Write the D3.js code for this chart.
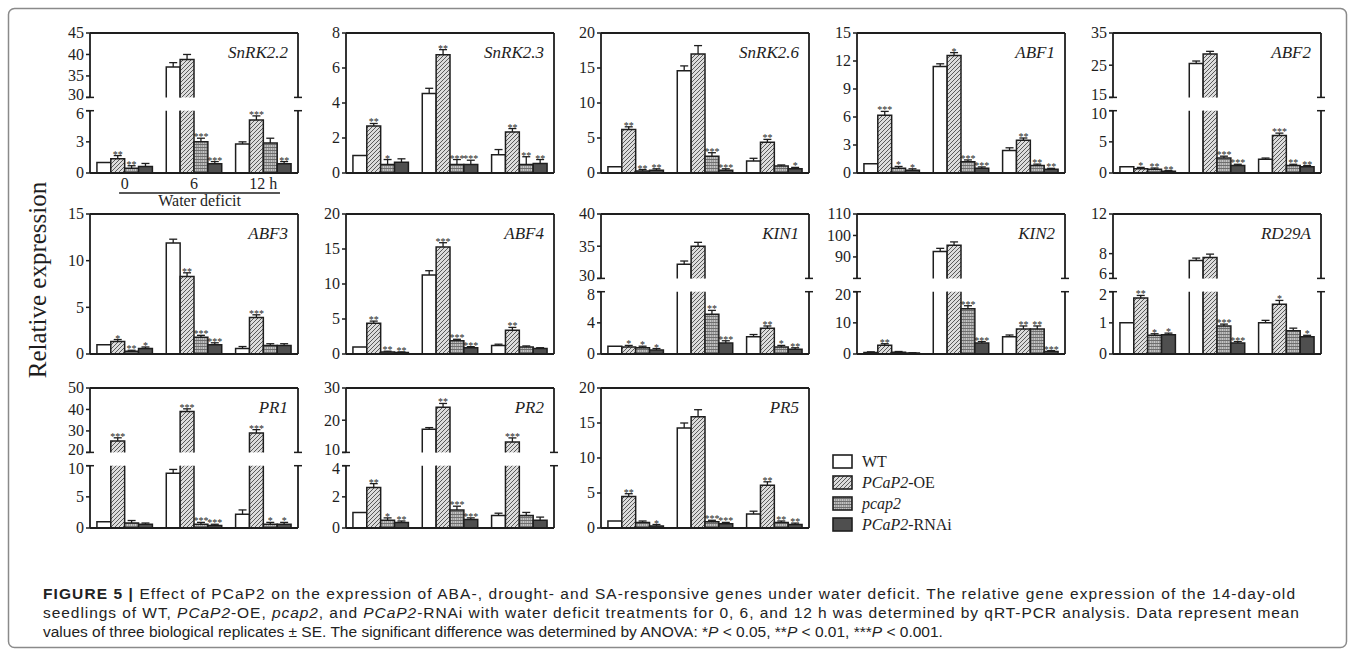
<!DOCTYPE html>
<html>
<head>
<meta charset="utf-8">
<script src="https://cdn.jsdelivr.net/npm/d3@7"></script>
<style>
body { margin: 0; background: #fff; }
svg { display: block; }
</style>
</head>
<body>
<div id="chart"></div>
<script>
const groups = ["0", "6", "12 h"];
const series = ["WT", "PCaP2-OE", "pcap2", "PCaP2-RNAi"];

// values[group][series]
const snrk22Values = [[1.0, 1.38, 0.45, 0.62], [37.1, 38.8, 3.0, 0.9], [2.8, 5.1, 2.9, 0.9]];
const snrk22Errors = [[0, 0.3, 0.25, 0.3], [1.0, 1.2, 0.35, 0.2], [0.2, 0.4, 0.45, 0.2]];
const snrk22Stars = [["", "**", "**", ""], ["", "", "***", "***"], ["", "***", "", "**"]];
const snrk22Domains = [[0, 6], [30, 45]];
const snrk22Ticks = [[0, 3, 6], [30, 35, 40, 45]];

const snrk23Values = [[1.0, 2.68, 0.48, 0.62], [4.55, 6.76, 0.48, 0.48], [1.05, 2.35, 0.48, 0.54]];
const snrk23Errors = [[0, 0.15, 0.29, 0.19], [0.29, 0.29, 0.29, 0.25], [0.29, 0.19, 0.45, 0.23]];
const snrk23Stars = [["", "**", "*", ""], ["", "**", "***", "***"], ["", "**", "**", "**"]];
const snrk23Domains = [[0, 8]];
const snrk23Ticks = [[0, 2, 4, 6, 8]];

const snrk26Values = [[0.9, 6.2, 0.3, 0.4], [14.6, 17.0, 2.4, 0.4], [1.7, 4.4, 1.0, 0.6]];
const snrk26Errors = [[0, 0.4, 0.2, 0.2], [0.7, 1.2, 0.5, 0.2], [0.4, 0.4, 0.15, 0.2]];
const snrk26Stars = [["", "**", "**", "**"], ["", "", "***", "***"], ["", "**", "", "*"]];
const snrk26Domains = [[0, 20]];
const snrk26Ticks = [[0, 5, 10, 15, 20]];

const abf1Values = [[1.0, 6.2, 0.5, 0.3], [11.4, 12.6, 1.2, 0.5], [2.4, 3.5, 0.8, 0.4]];
const abf1Errors = [[0, 0.4, 0.2, 0.15], [0.3, 0.3, 0.2, 0.15], [0.3, 0.25, 0.15, 0.1]];
const abf1Stars = [["", "***", "*", "*"], ["", "*", "***", "***"], ["", "**", "**", "**"]];
const abf1Domains = [[0, 15]];
const abf1Ticks = [[0, 3, 6, 9, 12, 15]];

const abf2Values = [[1.0, 0.7, 0.6, 0.3], [25.5, 28.5, 2.4, 1.2], [2.2, 6.0, 1.2, 1.0]];
const abf2Errors = [[0, 0.2, 0.2, 0.1], [0.8, 0.8, 0.3, 0.2], [0.2, 0.4, 0.2, 0.2]];
const abf2Stars = [["", "*", "**", "**"], ["", "", "***", "***"], ["", "***", "**", "**"]];
const abf2Domains = [[0, 10], [15, 35]];
const abf2Ticks = [[0, 5, 10], [15, 25, 35]];

const abf3Values = [[1.0, 1.35, 0.3, 0.6], [11.9, 8.3, 1.8, 1.0], [0.6, 3.9, 0.9, 0.9]];
const abf3Errors = [[0, 0.2, 0.1, 0.15], [0.4, 0.4, 0.2, 0.2], [0.2, 0.3, 0.2, 0.2]];
const abf3Stars = [["", "*", "**", "*"], ["", "**", "***", "***"], ["", "***", "", ""]];
const abf3Domains = [[0, 15]];
const abf3Ticks = [[0, 5, 10, 15]];

const abf4Values = [[1.0, 4.4, 0.3, 0.2], [11.3, 15.3, 1.9, 0.9], [1.2, 3.4, 1.0, 0.8]];
const abf4Errors = [[0, 0.3, 0.1, 0.1], [0.6, 0.6, 0.2, 0.15], [0.2, 0.4, 0.15, 0.1]];
const abf4Stars = [["", "**", "**", "**"], ["", "***", "***", "***"], ["", "**", "", ""]];
const abf4Domains = [[0, 20]];
const abf4Ticks = [[0, 5, 10, 15, 20]];

const kin1Values = [[1.0, 0.9, 0.8, 0.5], [32.2, 35.0, 5.1, 1.4], [2.2, 3.3, 0.9, 0.6]];
const kin1Errors = [[0, 0.2, 0.2, 0.2], [0.5, 0.6, 0.5, 0.3], [0.3, 0.3, 0.2, 0.2]];
const kin1Stars = [["", "*", "*", "*"], ["", "", "**", "***"], ["", "**", "*", "**"]];
const kin1Domains = [[0, 8], [30, 40]];
const kin1Ticks = [[0, 4, 8], [30, 35, 40]];

const kin2Values = [[0.5, 2.8, 0.6, 0.3], [92.5, 95.5, 14.5, 3.5], [5.5, 8.0, 8.0, 0.8]];
const kin2Errors = [[0.2, 0.5, 0.2, 0.1], [1.5, 1.5, 1.0, 0.5], [0.6, 1.0, 1.0, 0.3]];
const kin2Stars = [["", "**", "", ""], ["", "", "***", "***"], ["", "**", "**", "***"]];
const kin2Domains = [[0, 20], [80, 110]];
const kin2Ticks = [[0, 10, 20], [90, 100, 110]];

const rd29aValues = [[1.0, 1.8, 0.6, 0.62], [7.3, 7.6, 0.9, 0.35], [1.0, 1.6, 0.75, 0.55]];
const rd29aErrors = [[0, 0.08, 0.05, 0.05], [0.25, 0.35, 0.06, 0.05], [0.08, 0.12, 0.08, 0.05]];
const rd29aStars = [["", "**", "*", "*"], ["", "", "***", "***"], ["", "*", "", "*"]];
const rd29aDomains = [[0, 2], [5.5, 12]];
const rd29aTicks = [[0, 1, 2], [6, 8, 12]];

const pr1Values = [[1.0, 25.3, 0.8, 0.6], [8.8, 39.0, 0.6, 0.4], [2.2, 29.0, 0.6, 0.6]];
const pr1Errors = [[0, 1.5, 0.4, 0.2], [0.6, 1.3, 0.3, 0.2], [0.7, 1.6, 0.3, 0.3]];
const pr1Stars = [["", "***", "", ""], ["", "***", "***", "***"], ["", "***", "*", "*"]];
const pr1Domains = [[0, 10], [20, 50]];
const pr1Ticks = [[0, 5, 10], [20, 30, 40, 50]];

const pr2Values = [[1.0, 2.6, 0.5, 0.35], [17.2, 24.0, 1.15, 0.55], [0.8, 13.2, 0.8, 0.5]];
const pr2Errors = [[0, 0.25, 0.15, 0.1], [0.5, 1.2, 0.25, 0.1], [0.15, 1.3, 0.2, 0.2]];
const pr2Stars = [["", "**", "*", "**"], ["", "**", "***", "***"], ["", "***", "", ""]];
const pr2Domains = [[0, 4], [10, 30]];
const pr2Ticks = [[0, 2, 4], [10, 20, 30]];

const pr5Values = [[1.0, 4.5, 0.8, 0.3], [14.3, 15.9, 0.9, 0.6], [2.0, 6.1, 0.8, 0.5]];
const pr5Errors = [[0, 0.4, 0.2, 0.2], [0.7, 1.0, 0.2, 0.2], [0.4, 0.5, 0.2, 0.2]];
const pr5Stars = [["", "**", "", "*"], ["", "", "***", "***"], ["", "**", "**", "**"]];
const pr5Domains = [[0, 20]];
const pr5Ticks = [[0, 5, 10, 15, 20]];

const panels = [
    { gene: "SnRK2.2", values: snrk22Values, errors: snrk22Errors, stars: snrk22Stars, domains: snrk22Domains, ticks: snrk22Ticks },
    { gene: "SnRK2.3", values: snrk23Values, errors: snrk23Errors, stars: snrk23Stars, domains: snrk23Domains, ticks: snrk23Ticks },
    { gene: "SnRK2.6", values: snrk26Values, errors: snrk26Errors, stars: snrk26Stars, domains: snrk26Domains, ticks: snrk26Ticks },
    { gene: "ABF1", values: abf1Values, errors: abf1Errors, stars: abf1Stars, domains: abf1Domains, ticks: abf1Ticks },
    { gene: "ABF2", values: abf2Values, errors: abf2Errors, stars: abf2Stars, domains: abf2Domains, ticks: abf2Ticks },
    { gene: "ABF3", values: abf3Values, errors: abf3Errors, stars: abf3Stars, domains: abf3Domains, ticks: abf3Ticks },
    { gene: "ABF4", values: abf4Values, errors: abf4Errors, stars: abf4Stars, domains: abf4Domains, ticks: abf4Ticks },
    { gene: "KIN1", values: kin1Values, errors: kin1Errors, stars: kin1Stars, domains: kin1Domains, ticks: kin1Ticks },
    { gene: "KIN2", values: kin2Values, errors: kin2Errors, stars: kin2Stars, domains: kin2Domains, ticks: kin2Ticks },
    { gene: "RD29A", values: rd29aValues, errors: rd29aErrors, stars: rd29aStars, domains: rd29aDomains, ticks: rd29aTicks },
    { gene: "PR1", values: pr1Values, errors: pr1Errors, stars: pr1Stars, domains: pr1Domains, ticks: pr1Ticks },
    { gene: "PR2", values: pr2Values, errors: pr2Errors, stars: pr2Stars, domains: pr2Domains, ticks: pr2Ticks },
    { gene: "PR5", values: pr5Values, errors: pr5Errors, stars: pr5Stars, domains: pr5Domains, ticks: pr5Ticks }
];

const W = 1355, H = 652;
const colX = [90, 346, 601, 857, 1113];
const rowY = [33, 214, 388];
const panelW = 208, panelH = 140;
const ink = "#1e1e1e";

const svg = d3.select("#chart").append("svg")
    .attr("width", W)
    .attr("height", H)
    .style("font-family", "'Liberation Serif', 'Times New Roman', serif");

// fills
const defs = svg.append("defs");
const hatch = defs.append("pattern").attr("id", "hatch")
    .attr("patternUnits", "userSpaceOnUse").attr("width", 4).attr("height", 4);
hatch.append("rect").attr("width", 4).attr("height", 4).attr("fill", "#dcdcdc");
hatch.append("path").attr("d", "M-1,1 l2,-2 M0,4 l4,-4 M3,5 l2,-2")
    .attr("stroke", "#5a5a5a").attr("stroke-width", 1);

const dots = defs.append("pattern").attr("id", "dots")
    .attr("patternUnits", "userSpaceOnUse").attr("width", 4).attr("height", 3);
dots.append("rect").attr("width", 4).attr("height", 3).attr("fill", "#9a9a9a");
dots.append("rect").attr("y", 0).attr("width", 4).attr("height", 1).attr("fill", "#6e6e6e");
dots.append("rect").attr("x", 1).attr("y", 1.5).attr("width", 1).attr("height", 1).attr("fill", "#f2f2f2");
dots.append("rect").attr("x", 3).attr("y", 1.5).attr("width", 1).attr("height", 1).attr("fill", "#d8d8d8");

const fills = { "WT": "#ffffff", "PCaP2-OE": "url(#hatch)", "pcap2": "url(#dots)", "PCaP2-RNAi": "#4f4f4f" };

// outer frame of the figure
svg.append("rect")
    .attr("x", 8.5).attr("y", 8.5)
    .attr("width", W - 17).attr("height", H - 13)
    .attr("rx", 6)
    .attr("fill", "none")
    .attr("stroke", "#8a8a8a")
    .attr("stroke-width", 1.5);

function drawPanel(p, i) {
    const col = i % 5, row = Math.floor(i / 5);
    const g = svg.append("g").attr("transform", `translate(${colX[col]},${rowY[row]})`);

    const x0 = d3.scaleBand().domain(groups).range([0, panelW]).paddingInner(0.2).paddingOuter(0.1);
    const x1 = d3.scaleBand().domain(series).range([0, x0.bandwidth()]);

    let segs;
    if (p.domains.length === 1) {
        segs = [{ domain: p.domains[0], range: [panelH, 0], ticks: p.ticks[0] }];
    } else {
        segs = [
            { domain: p.domains[0], range: [panelH, panelH * 0.555], ticks: p.ticks[0] },
            { domain: p.domains[1], range: [panelH * 0.46, 0], ticks: p.ticks[1] }
        ];
    }
    segs.forEach(s => { s.y = d3.scaleLinear().domain(s.domain).range(s.range); });

    function segFor(v) {
        for (const s of segs) if (v <= s.domain[1]) return s;
        return segs[segs.length - 1];
    }

    // bars
    groups.forEach((grp, gi) => {
        series.forEach((ser, si) => {
            const v = p.values[gi][si];
            const bx = x0(grp) + x1(ser);
            const bw = x1.bandwidth();
            segs.forEach((s, k) => {
                if (k > 0 && v <= s.domain[0]) return;
                const lo = k === 0 ? 0 : s.domain[0];
                const hi = Math.min(v, s.domain[1]);
                const yt = s.y(hi), yb = s.y(lo);
                g.append("rect")
                    .attr("x", bx).attr("y", yt)
                    .attr("width", bw).attr("height", Math.max(0, yb - yt))
                    .attr("fill", fills[ser]);
                const closed = v <= s.domain[1];
                const d = closed
                    ? `M${bx},${yb}V${yt}H${bx + bw}V${yb}`
                    : `M${bx},${yb}V${yt}M${bx + bw},${yt}V${yb}`;
                g.append("path").attr("d", d)
                    .attr("fill", "none").attr("stroke", ink).attr("stroke-width", 1.5);
            });

            // error bar + significance
            const e = p.errors[gi][si];
            const s = segFor(v);
            const cx = bx + bw / 2;
            const yv = s.y(Math.min(v, s.domain[1]));
            const ye = s.y(Math.min(v + e, s.domain[1] + (s.domain[1] - s.domain[0]) * 0.04));
            if (e > 0) {
                g.append("line").attr("x1", cx).attr("x2", cx).attr("y1", yv).attr("y2", ye)
                    .attr("stroke", ink).attr("stroke-width", 1.3);
                g.append("line").attr("x1", cx - 4).attr("x2", cx + 4).attr("y1", ye).attr("y2", ye)
                    .attr("stroke", ink).attr("stroke-width", 1.3);
            }
            const st = p.stars[gi][si];
            if (st) {
                g.append("text")
                    .attr("x", cx).attr("y", ye + 2)
                    .attr("text-anchor", "middle")
                    .attr("font-size", 10)
                    .attr("fill", ink)
                    .text(st);
            }
        });
    });

    // frame: left axis, right side, top and baseline
    segs.forEach((s, k) => {
        const [yb, yt] = s.range;
        g.append("line").attr("x1", 0).attr("x2", 0).attr("y1", yb).attr("y2", yt)
            .attr("stroke", ink).attr("stroke-width", 1.8);
        g.append("line").attr("x1", panelW).attr("x2", panelW).attr("y1", yb).attr("y2", yt)
            .attr("stroke", ink).attr("stroke-width", 1.8);
        s.ticks.forEach(t => {
            const y = s.y(t);
            // labels next to the break are pushed slightly apart
            let shift = 0;
            if (segs.length > 1 && k === 0 && t === s.domain[1]) shift = 3;
            if (segs.length > 1 && k === 1 && t === s.domain[0]) shift = -3;
            g.append("line").attr("x1", -4).attr("x2", 0).attr("y1", y).attr("y2", y)
                .attr("stroke", ink).attr("stroke-width", 1.5);
            g.append("text")
                .attr("x", -6).attr("y", y + shift)
                .attr("dy", "0.34em")
                .attr("text-anchor", "end")
                .attr("font-size", 16)
                .attr("fill", ink)
                .text(t);
        });
        if (segs.length > 1) {
            const yc = k === 0 ? yt : yb;
            [0, panelW].forEach(xx => {
                g.append("line").attr("x1", xx - 4).attr("x2", xx + 4).attr("y1", yc).attr("y2", yc)
                    .attr("stroke", ink).attr("stroke-width", 1.5);
            });
        }
    });
    g.append("line").attr("x1", 0).attr("x2", panelW).attr("y1", 0).attr("y2", 0)
        .attr("stroke", ink).attr("stroke-width", 1.8);
    g.append("line").attr("x1", 0).attr("x2", panelW).attr("y1", panelH).attr("y2", panelH)
        .attr("stroke", ink).attr("stroke-width", 1.8);

    g.append("text")
        .attr("x", panelW - 10).attr("y", 25)
        .attr("text-anchor", "end")
        .attr("font-size", 17)
        .attr("font-style", "italic")
        .attr("fill", ink)
        .text(p.gene);

    // time axis only under the first panel
    if (i === 0) {
        groups.forEach(grp => {
            g.append("text")
                .attr("x", x0(grp) + x0.bandwidth() / 2)
                .attr("y", panelH + 16)
                .attr("text-anchor", "middle")
                .attr("font-size", 16)
                .attr("fill", ink)
                .text(grp);
        });
        const lx1 = x0(groups[0]) + x0.bandwidth() * 0.4;
        const lx2 = x0(groups[2]) + x0.bandwidth() * 0.8;
        g.append("line").attr("x1", lx1).attr("x2", lx2)
            .attr("y1", panelH + 20).attr("y2", panelH + 20)
            .attr("stroke", ink).attr("stroke-width", 1.3);
        g.append("text")
            .attr("x", (lx1 + lx2) / 2).attr("y", panelH + 33)
            .attr("text-anchor", "middle")
            .attr("font-size", 16)
            .attr("fill", ink)
            .text("Water deficit");
    }
}

panels.forEach(drawPanel);

// shared y title
svg.append("text")
    .attr("transform", "translate(46,280) rotate(-90)")
    .attr("text-anchor", "middle")
    .attr("font-size", 25)
    .attr("fill", ink)
    .text("Relative expression");

// legend
const legend = svg.append("g").attr("transform", "translate(833,462)");
series.forEach((ser, k) => {
    const row = legend.append("g").attr("transform", `translate(0,${k * 21})`);
    row.append("rect").attr("x", 0).attr("y", -7).attr("width", 19).attr("height", 13)
        .attr("fill", fills[ser]).attr("stroke", ink).attr("stroke-width", 1.6);
    const t = row.append("text").attr("x", 29).attr("y", 0).attr("dy", "0.34em")
        .attr("font-size", 16).attr("fill", ink);
    if (ser === "WT") t.text("WT");
    else if (ser === "pcap2") t.append("tspan").attr("font-style", "italic").text("pcap2");
    else {
        t.append("tspan").attr("font-style", "italic").text("PCaP2");
        t.append("tspan").text(ser.replace("PCaP2", ""));
    }
});

// caption (justified lines, last line natural width)
const capLines = [
    [["b", "FIGURE 5 | "], ["", "Effect of PCaP2 on the expression of ABA-, drought- and SA-responsive genes under water deficit. The relative gene expression of the 14-day-old"]],
    [["", "seedlings of WT, "], ["i", "PCaP2"], ["", "-OE, "], ["i", "pcap2"], ["", ", and "], ["i", "PCaP2"], ["", "-RNAi with water deficit treatments for 0, 6, and 12 h was determined by qRT-PCR analysis. Data represent mean"]],
    [["", "values of three biological replicates \u00b1 SE. The significant difference was determined by ANOVA: *"], ["i", "P"], ["", " < 0.05, **"], ["i", "P"], ["", " < 0.01, ***"], ["i", "P"], ["", " < 0.001."]]
];
const capWidths = [1252, 1256, null];
capLines.forEach((parts, k) => {
    const t = svg.append("text")
        .attr("x", 43).attr("y", 599 + k * 19)
        .attr("font-size", 15.5)
        .attr("fill", "#222")
        .style("font-family", "'Liberation Sans', Arial, sans-serif");
    if (capWidths[k]) t.attr("textLength", capWidths[k]).attr("lengthAdjust", "spacing");
    parts.forEach(([f, s]) => {
        const ts = t.append("tspan").text(s);
        if (f === "b") ts.attr("font-weight", "bold");
        if (f === "i") ts.attr("font-style", "italic");
    });
});
</script>
</body>
</html>
